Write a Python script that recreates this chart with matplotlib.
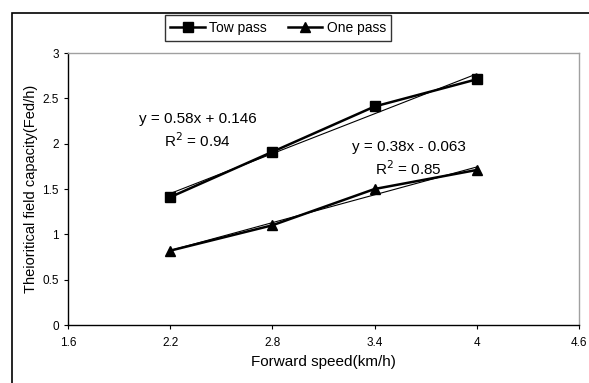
import matplotlib
matplotlib.use("Agg")
import matplotlib.pyplot as plt
import numpy as np
from matplotlib.patches import Rectangle
from matplotlib.ticker import FormatStrFormatter

plt.rcParams['font.family'] = ['Liberation Sans', 'DejaVu Sans']

speed = [2.2, 2.8, 3.4, 4.0]
tow_pass = [1.41, 1.91, 2.41, 2.71]
one_pass = [0.82, 1.10, 1.50, 1.71]
x_ticks = [1.6, 2.2, 2.8, 3.4, 4.0, 4.6]
y_ticks = [0, 0.5, 1, 1.5, 2, 2.5, 3]

fig = plt.figure(figsize=(5.89, 3.83), dpi=100)
ax = fig.add_axes([68 / 589, 58 / 383, 511 / 589, 272 / 383])

# outer chart border (only top and left show in the picture)
fig.patches.append(Rectangle((12 / 589, -0.1), 1.2, (383 - 13) / 383 + 0.1,
                             transform=fig.transFigure, fill=False,
                             edgecolor='black', linewidth=1.2))

l1, = ax.plot(speed, tow_pass, color='black', lw=1.8, marker='s', ms=6.5, label='Tow pass')
l2, = ax.plot(speed, one_pass, color='black', lw=1.8, marker='^', ms=7.5, label='One pass')

# linear trendlines
xs = np.array(speed)
for ys in (tow_pass, one_pass):
    k, b = np.polyfit(xs, ys, 1)
    ax.plot(xs, k * xs + b, color='black', lw=0.8)

ax.text(2.36, 2.27, 'y = 0.58x + 0.146', fontsize=11, ha='center', va='center')
ax.text(2.36, 2.03, r'R$^2$ = 0.94', fontsize=11, ha='center', va='center')
ax.text(3.60, 1.96, 'y = 0.38x - 0.063', fontsize=11, ha='center', va='center')
ax.text(3.60, 1.72, r'R$^2$ = 0.85', fontsize=11, ha='center', va='center')

ax.set_xlim(1.6, 4.6)
ax.set_ylim(0, 3)
ax.set_xticks(x_ticks)
ax.set_yticks(y_ticks)
ax.xaxis.set_major_formatter(FormatStrFormatter('%g'))
ax.yaxis.set_major_formatter(FormatStrFormatter('%g'))
ax.tick_params(direction='out', length=3, width=0.8, labelsize=8.5, colors='black')
ax.tick_params(axis='x', pad=6)
for s in ('top', 'right'):
    ax.spines[s].set_color('#a0a0a0')
    ax.spines[s].set_linewidth(1.0)
for s in ('left', 'bottom'):
    ax.spines[s].set_linewidth(1.0)

ax.set_xlabel('Forward speed(km/h)', fontsize=11, labelpad=4)
ax.set_ylabel('Theioritical field capacity(Fed/h)', fontsize=10.5, labelpad=3)

leg = fig.legend(handles=[l1, l2], loc='center', bbox_to_anchor=(278 / 589, 1 - 28 / 383),
                 ncol=2, frameon=True, fancybox=False, edgecolor='black',
                 fontsize=10, handlelength=2.5, columnspacing=1.5, borderpad=0.4,
                 handletextpad=0.3)
leg.get_frame().set_linewidth(1.0)

fig.savefig('out.png', dpi=100)
